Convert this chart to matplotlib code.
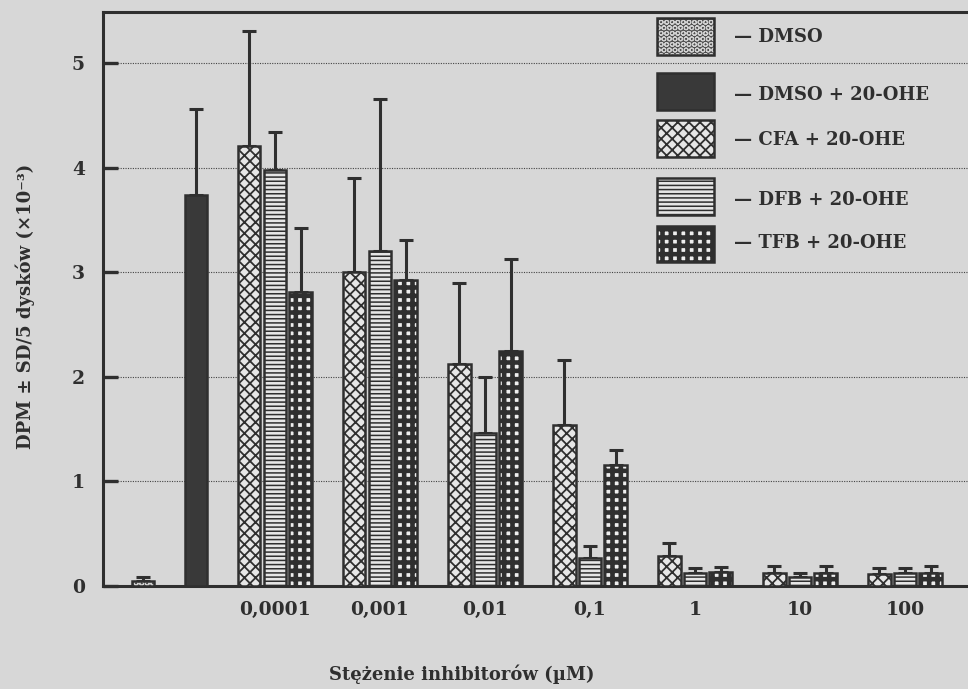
import matplotlib
matplotlib.use("Agg")
import numpy as np
import matplotlib.pyplot as plt
from matplotlib.patches import Rectangle

# --- data: DPM (x10^-3) per 5 discs, mean and SD ---
concentrations = ["0,0001", "0,001", "0,01", "0,1", "1", "10", "100"]
labels = ["DMSO", "DMSO + 20-OHE", "CFA + 20-OHE", "DFB + 20-OHE", "TFB + 20-OHE"]

dmso_mean, dmso_sd = 0.05, 0.04
dmso_ohe_mean, dmso_ohe_sd = 3.74, 0.82

cfa_mean = [4.21, 3.00, 2.12, 1.54, 0.29, 0.12, 0.11]
cfa_sd = [1.10, 0.90, 0.78, 0.62, 0.12, 0.07, 0.06]
dfb_mean = [3.98, 3.20, 1.46, 0.27, 0.12, 0.09, 0.12]
dfb_sd = [0.36, 1.46, 0.54, 0.11, 0.05, 0.03, 0.05]
tfb_mean = [2.81, 2.93, 2.25, 1.16, 0.13, 0.12, 0.12]
tfb_sd = [0.61, 0.38, 0.88, 0.14, 0.05, 0.07, 0.07]

# --- styling ---
PAPER = "#d7d7d7"
INK = "#2f2f2f"
FONT = ["DejaVu Serif"]

# (face, hatch, hatch colour, hatch linewidth)
STYLES = {
    "DMSO": ("#4f4f4f", "OOO", "#d0d0d0", 0.8),
    "DMSO + 20-OHE": ("#393939", None, "#393939", 1.0),
    "CFA + 20-OHE": ("#e6e6e6", "xxx", INK, 1.3),
    "DFB + 20-OHE": ("#e6e6e6", "----", INK, 1.1),
    "TFB + 20-OHE": ("#eeeeee", "++", INK, 3.3),
}

plt.rcParams["font.family"] = FONT
plt.rcParams["font.weight"] = "bold"


def hatched_bar(ax, x, h, width, style):
    face, hatch, hcolor, hlw = STYLES[style]
    with plt.rc_context({"hatch.linewidth": hlw}):
        fill = ax.bar(x, h, width, color=face, edgecolor=hcolor,
                      hatch=hatch, linewidth=0, zorder=3)
    for b in fill:
        if hasattr(b, "set_hatch_linewidth"):
            b.set_hatch_linewidth(hlw)
    ax.bar(x, h, width, fill=False, edgecolor=INK, linewidth=1.8, zorder=4)


def upper_err(ax, x, mean, sd):
    mean = np.atleast_1d(mean)
    sd = np.atleast_1d(sd)
    ax.errorbar(x, mean, yerr=[np.zeros_like(sd), sd], fmt="none",
                ecolor=INK, elinewidth=2.2, capsize=5, capthick=2.2, zorder=2)


fig = plt.figure(figsize=(9.68, 6.89), dpi=100, facecolor=PAPER)
ax = fig.add_axes([0.1064, 0.1495, 0.8936, 0.8331], facecolor=PAPER)

centers = np.arange(len(concentrations))
offset = 0.243
width = 0.21

# controls without inhibitor
hatched_bar(ax, [-1.257], [dmso_mean], width, "DMSO")
upper_err(ax, [-1.257], dmso_mean, dmso_sd)
hatched_bar(ax, [-0.752], [dmso_ohe_mean], width, "DMSO + 20-OHE")
upper_err(ax, [-0.752], dmso_ohe_mean, dmso_ohe_sd)

for shift, mean, sd, name in [(-offset, cfa_mean, cfa_sd, "CFA + 20-OHE"),
                              (0.0, dfb_mean, dfb_sd, "DFB + 20-OHE"),
                              (offset, tfb_mean, tfb_sd, "TFB + 20-OHE")]:
    hatched_bar(ax, centers + shift, mean, width, name)
    upper_err(ax, centers + shift, mean, sd)

ax.set_xlim(-1.638, 6.6)
ax.set_ylim(0, 5.49)
ax.set_yticks(range(6))
ax.set_xticks(centers)
ax.set_xticklabels(concentrations)
ax.tick_params(axis="y", direction="in", length=11, width=2.4, color=INK,
               pad=13, labelsize=13.5, labelcolor=INK)
ax.tick_params(axis="x", length=0, pad=11, labelsize=13.5, labelcolor=INK)
ax.grid(axis="y", color="#444444", linestyle=(0, (1, 1.2)), linewidth=0.8, zorder=1)
ax.set_axisbelow(True)
for side in ("left", "top", "bottom"):
    ax.spines[side].set_linewidth(2.2)
    ax.spines[side].set_color(INK)
ax.spines["right"].set_visible(False)

fig.text(462 / 968, 1 - 674 / 689, "Stężenie inhibitorów (µM)", ha="center",
         va="center", fontsize=13, fontweight="bold", color=INK)
fig.text(25 / 968, 1 - 306 / 689, "DPM ± SD/5 dysków (×10⁻³)", rotation=90,
         ha="center", va="center", fontsize=13, fontweight="bold", color=INK)

# legend drawn by hand: boxes and captions placed between the grid lines
box_x, box_w, box_h = 0.640, 0.066, 0.064
text_x = 0.730
box_bottoms = [0.925, 0.829, 0.747, 0.646, 0.564]
text_ys = [0.956, 0.855, 0.777, 0.672, 0.598]
for name, yb, yt in zip(labels, box_bottoms, text_ys):
    face, hatch, hcolor, hlw = STYLES[name]
    r = Rectangle((box_x, yb), box_w, box_h, transform=ax.transAxes,
                  facecolor=face, edgecolor=hcolor, hatch=hatch, linewidth=0,
                  zorder=5, clip_on=False)
    if hasattr(r, "set_hatch_linewidth"):
        r.set_hatch_linewidth(hlw)
    ax.add_patch(r)
    ax.add_patch(Rectangle((box_x, yb), box_w, box_h, transform=ax.transAxes,
                           fill=False, edgecolor=INK, linewidth=1.8, zorder=6,
                           clip_on=False))
    ax.text(text_x, yt, "— " + name, transform=ax.transAxes, ha="left",
            va="center", fontsize=13, color=INK, zorder=6)

fig.savefig("out.png", dpi=100, facecolor=PAPER)
